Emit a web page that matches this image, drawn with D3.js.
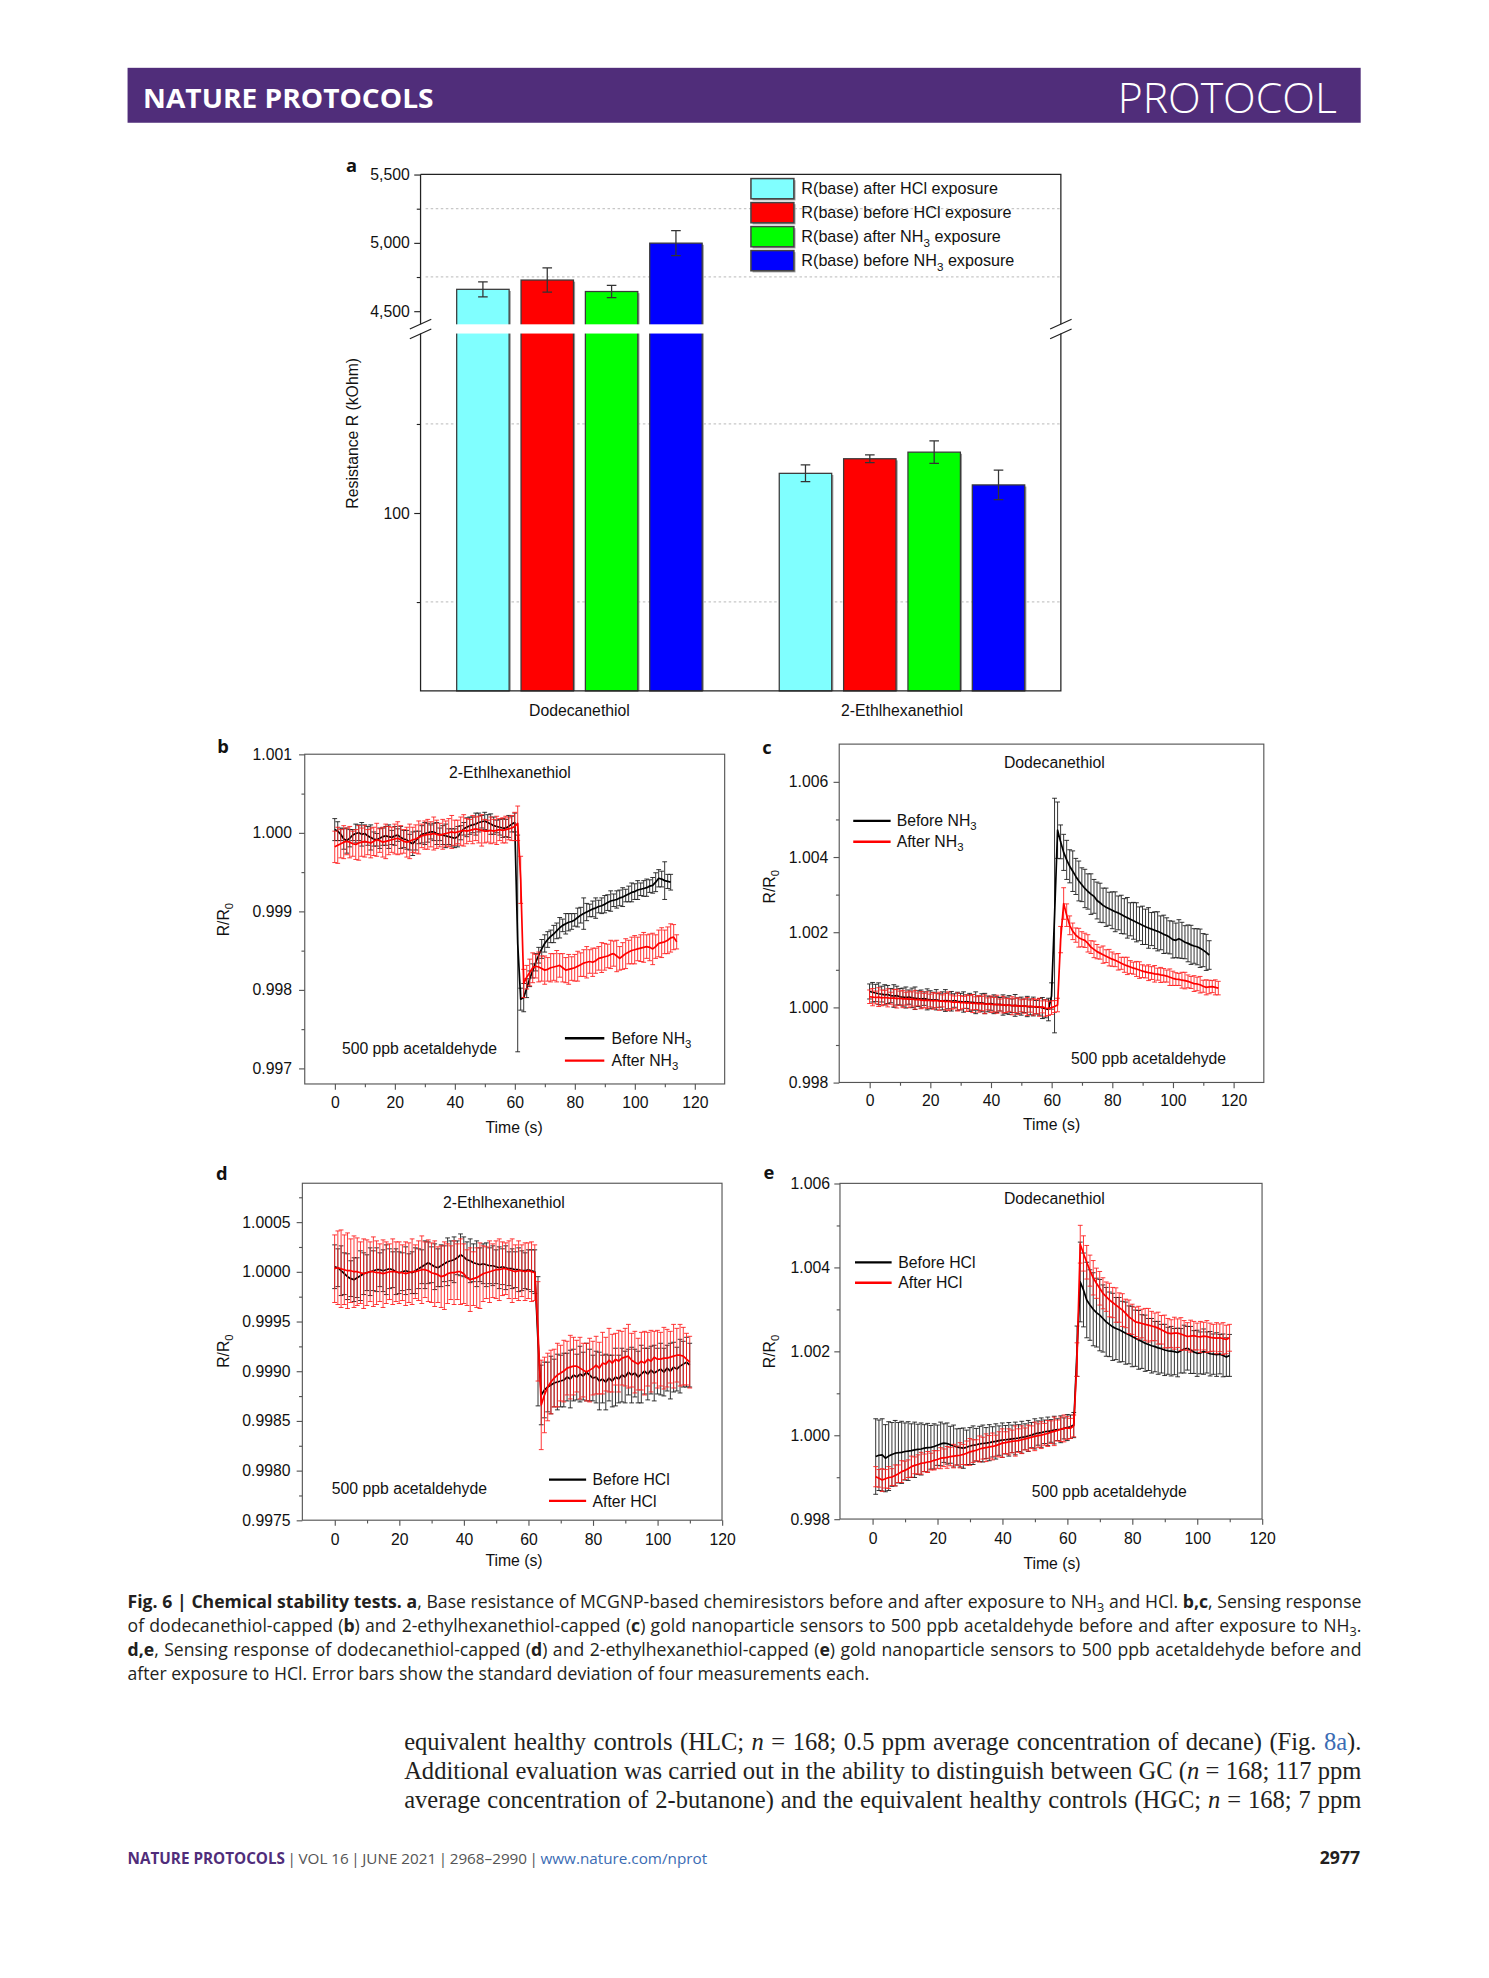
<!DOCTYPE html>
<html lang="en">
<head>
<meta charset="UTF-8">
<title>Fig. 6 | Chemical stability tests</title>
<style>
  body { margin: 0; background: #fff; }
  svg { display: block; }
</style>
</head>
<body>
<script src="https://cdn.jsdelivr.net/npm/d3@7/dist/d3.min.js"></script>
<script>
"use strict";

// ---------- panel a : base resistance ----------
var groups = ["Dodecanethiol", "2-Ethlhexanethiol"];
var seriesA = [
  [["R(base) after HCl exposure"]],
  [["R(base) before HCl exposure"]],
  [["R(base) after NH"], ["3", "sub"], [" exposure"]],
  [["R(base) before NH"], ["3", "sub"], [" exposure"]]
];
var colorsA = ["#80ffff", "#ff0000", "#00ff00", "#0000ff"];
var dodecValues = [4659, 4727, 4643, 4997];   // kOhm
var dodecErrors = [55, 89, 45, 91];
var ethlValues = [122.2, 130.4, 134.1, 115.7];
var ethlErrors = [4.7, 2.2, 6.3, 8.3];
var upperTicks = [4500, 5000, 5500];
var upperMinor = [4750, 5250];
var lowerTicks = [100];
var lowerMinor = [50, 150];

// ---------- panels b-e : R/R0 vs time ----------
// readings stored as (R/R0 - 1) x 1e5, one sample per second starting at t0
var UNIT = 1e-5;
var xTicks = [0, 20, 40, 60, 80, 100, 120];
var xMinor = [-10, 10, 30, 50, 70, 90, 110, 130];

// b: 2-Ethlhexanethiol, NH3
var bBefore = [4,2,-2,-8,-10,-7,-3,-1,0,-2,-1,
  -4,-6,-8,-9,-7,-5,-4,-5,-6,-4,
  -3,-6,-8,-9,-12,-14,-10,-6,-2,-1,
  0,1,1,-1,-2,-3,-4,-5,-6,-7,
  -5,0,5,7,9,10,11,13,14,15,
  13,11,9,8,7,6,6,8,11,13,
  -141,
  -212,-210,-198,-186,-176,-165,-156,-148,-141,
  -136,-132,-129,-125,-121,-118,-116,-114,-113,-111,
  -108,-105,-103,-101,-99,-97,-96,-94,-93,-91,
  -89,-87,-86,-85,-83,-82,-80,-78,-76,-75,
  -73,-72,-71,-70,-68,-67,-63,-58,-59,-61,-62,-63];
var bBeforeErr = [14,12,8,13,16,11,7,12,10,15,11,
  12,16,9,8,13,11,12,15,9,12,
  8,14,11,12,10,15,12,8,11,14,
  12,9,11,14,8,12,15,10,11,12,
  13,9,8,12,11,10,14,12,8,11,
  10,13,11,8,10,12,11,14,10,12,
  138,
  14,18,12,10,9,11,10,12,11,
  10,8,11,10,13,8,13,11,10,8,
  12,10,20,11,8,10,13,8,10,11,
  10,13,8,11,10,12,8,10,12,10,
  12,8,10,11,8,10,12,11,10,24,9,10];
var bAfter = [-18,-16,-14,-12,-11,-12,-14,-15,-13,-12,-11,
  -12,-13,-11,-9,-10,-12,-11,-10,-9,-8,
  -7,-9,-11,-12,-11,-9,-8,-6,-4,-3,
  -2,-2,-1,-2,-3,-2,-1,0,1,0,
  1,2,3,2,3,4,5,4,3,2,
  2,3,2,3,4,3,4,5,6,8,
  12,-60,
  -192,-184,-178,-172,-170,-171,-173,-175,
  -174,-172,-171,-170,-169,-172,-175,-174,-173,-172,
  -170,-168,-166,-165,-164,-165,-163,-160,-159,-158,
  -157,-155,-154,-157,-160,-157,-154,-152,-150,-149,
  -148,-147,-146,-145,-146,-148,-145,-141,-140,-139,-137,-134,-133,-139];
var bAfterErr = [20,23,18,21,17,20,16,19,22,18,20,
  16,19,18,21,15,19,22,18,16,19,
  21,18,15,19,22,16,18,21,15,18,
  19,16,21,18,15,19,16,18,21,16,
  15,18,20,16,14,18,15,17,20,15,
  14,17,15,18,14,16,17,14,16,18,
  22,30,
  18,15,17,19,15,19,16,18,
  15,18,17,20,15,18,16,19,15,17,
  19,15,17,20,15,18,16,15,19,17,
  15,18,16,20,15,17,19,15,17,18,
  15,17,19,15,17,20,15,17,19,15,17,18,16,9];

// c: Dodecanethiol, NH3
var cBefore = [42,40,38,36,35,33,34,31,30,31,28,
  27,26,27,25,24,23,22,23,21,20,
  19,20,18,17,18,17,16,18,16,15,
  14,15,13,13,12,11,12,10,9,10,
  8,7,8,6,5,6,4,5,4,3,
  4,2,1,2,0,1,-2,-4,-6,30,
  244,471,440,412,392,375,362,348,336,326,
  316,308,301,295,284,278,271,266,262,258,
  254,251,247,242,238,234,230,226,222,218,
  214,211,208,205,202,198,194,191,186,180,
  178,182,178,173,170,166,163,161,157,152,146,139];
var cBeforeErr = [20,26,23,29,21,27,24,19,30,25,22,
  24,28,19,26,30,21,24,18,28,24,
  21,27,18,24,29,21,26,18,24,22,
  27,18,24,21,29,19,24,27,21,18,
  25,21,18,27,22,25,18,29,21,24,
  18,27,21,25,18,22,28,24,30,35,
  312,75,45,48,52,44,54,48,53,45,
  51,47,54,45,49,52,46,51,44,49,
  53,45,51,47,54,44,49,52,45,51,
  47,54,44,49,52,45,51,47,44,49,
  46,51,48,44,49,52,46,48,51,44,48,38];
var cAfter = [28,27,26,27,25,26,25,24,25,23,24,
  22,23,21,22,20,21,19,18,19,18,
  17,18,16,17,15,16,14,13,14,12,
  13,11,12,10,11,9,10,8,9,8,
  7,8,6,7,5,6,4,5,3,4,
  3,2,3,1,2,0,1,-2,-3,-1,
  2,6,180,276,245,218,202,192,185,181,
  178,170,160,154,148,144,140,136,132,128,
  125,121,117,113,110,107,104,102,99,96,
  94,92,91,89,88,86,85,83,80,77,
  75,74,72,71,69,66,63,62,60,56,53,54,55,53,51];
var cAfterErr = [18,23,17,25,21,19,24,16,22,25,19,
  23,17,22,19,25,17,23,19,22,17,
  22,19,24,16,22,25,19,17,24,19,
  16,22,19,24,17,22,19,25,16,22,
  19,24,16,22,19,17,24,19,22,16,
  19,24,16,22,19,24,16,22,19,18,
  16,18,35,42,30,25,22,19,25,20,
  19,23,17,22,19,16,23,17,22,19,
  17,22,16,20,23,17,16,20,22,17,
  16,21,17,22,16,20,18,16,22,19,
  17,16,21,22,17,16,21,18,22,16,20,18,16,20,18];

// d: 2-Ethlhexanethiol, HCl
var dBefore = [5,4,1,-2,-5,-7,-8,-6,-4,-2,-1,
  0,1,2,2,1,2,3,2,0,-1,
  0,1,0,-1,1,3,5,7,9,7,
  5,4,6,8,10,11,12,14,17,15,
  12,11,9,8,7,8,7,6,6,5,
  4,5,4,3,3,2,2,1,1,2,
  1,0,-70,-124,-119,-116,-114,-112,-111,-110,
  -109,-106,-108,-104,-106,-103,-105,-101,-104,-107,
  -106,-110,-108,-111,-107,-110,-106,-108,-104,-106,
  -101,-104,-102,-106,-103,-100,-103,-99,-102,-100,
  -98,-101,-97,-100,-96,-98,-95,-93,-91,-94];
var dBeforeErr = [22,19,25,21,23,18,22,20,25,21,18,
  24,20,22,17,21,25,20,18,23,21,
  19,24,18,21,23,20,17,24,21,18,
  23,19,21,18,24,20,23,17,21,20,
  18,22,19,23,17,20,22,18,20,17,
  21,18,22,17,20,18,22,20,18,20,
  21,22,65,30,28,25,29,24,28,26,
  27,24,29,26,23,28,24,29,26,23,
  26,29,24,28,23,26,29,24,27,26,
  23,28,24,26,29,23,26,24,28,23,
  26,24,23,28,25,22,27,23,25,22];
var dAfter = [3,4,3,2,1,1,0,0,-1,-2,-1,
  0,0,-1,-1,-2,-1,0,0,0,-1,
  -1,-2,-1,0,0,1,2,2,1,-1,
  -2,-3,-5,-4,-2,-1,-1,0,0,-2,
  -6,-8,-7,-6,-4,-2,-1,0,1,2,
  2,3,3,2,1,0,1,1,0,1,
  0,-1,-60,-134,-124,-116,-111,-107,-104,-102,
  -100,-97,-96,-95,-95,-97,-99,-101,-99,-97,
  -94,-97,-92,-93,-89,-92,-88,-90,-87,-86,
  -85,-89,-91,-93,-90,-92,-88,-90,-86,-88,
  -88,-87,-87,-86,-85,-84,-84,-85,-88,-91];
var dAfterErr = [34,37,39,35,38,32,36,34,31,35,33,
  30,35,32,29,34,31,28,33,30,31,
  28,32,30,33,27,30,34,28,31,30,
  33,28,31,34,30,27,32,28,33,30,
  28,32,27,30,33,28,26,31,27,29,
  31,27,26,29,32,27,30,26,29,28,
  30,28,50,45,38,34,32,29,32,28,
  31,27,32,29,26,31,27,29,32,27,
  29,26,31,27,32,29,26,31,27,29,
  32,27,31,26,29,32,27,31,26,29,
  27,31,29,26,32,27,31,29,26,26];

// e: Dodecanethiol, HCl (first sample at t = 1 s)
var eBefore = [-51,-48,-47,-55,-50,-46,-43,-42,-41,-39,
  -38,-37,-35,-34,-33,-31,-30,-29,-27,-24,
  -21,-19,-20,-23,-26,-28,-30,-31,-29,-26,
  -24,-23,-21,-20,-19,-18,-16,-15,-13,-12,
  -11,-10,-9,-8,-7,-5,-4,-2,0,3,
  5,6,8,9,10,12,13,14,16,18,
  20,24,200,365,346,322,310,300,292,286,
  278,270,264,258,254,251,247,243,239,235,
  231,227,223,219,216,213,211,208,206,203,
  201,200,199,197,201,205,207,203,198,195,
  196,199,197,194,193,192,193,190,186,190];
var eBeforeErr = [90,84,86,80,82,76,78,72,74,68,
  70,64,66,60,62,56,58,52,54,48,
  52,46,49,44,50,43,46,48,41,44,
  46,39,42,44,37,43,36,42,35,41,
  34,40,33,39,32,38,31,37,30,36,
  29,35,28,34,27,33,26,32,25,31,
  28,30,60,95,88,90,84,87,82,85,
  80,82,77,80,74,77,72,74,69,72,
  67,70,64,67,62,65,60,63,58,61,
  56,59,55,58,53,57,52,56,51,55,
  50,54,49,53,48,52,47,51,46,50];
var eAfter = [-99,-103,-107,-104,-101,-100,-96,-92,-87,-84,
  -80,-75,-72,-70,-67,-66,-64,-63,-60,-58,
  -55,-54,-53,-51,-50,-49,-48,-46,-43,-40,
  -38,-36,-33,-31,-30,-28,-27,-25,-22,-19,
  -18,-16,-15,-14,-13,-11,-9,-7,-5,-3,
  -1,0,2,4,7,9,11,14,16,17,
  16,22,180,455,433,412,392,375,362,350,
  338,330,322,316,310,304,298,290,282,276,
  270,268,266,264,262,260,258,255,251,247,
  243,242,243,243,241,238,235,236,237,235,
  234,236,235,233,232,231,232,230,228,232];
var eAfterErr = [24,21,27,22,26,20,25,21,26,22,
  21,25,20,23,26,21,25,20,23,21,
  25,21,26,22,28,23,30,24,29,32,
  27,25,31,26,33,27,32,25,30,34,
  26,31,27,36,28,33,26,31,27,34,
  28,32,26,31,27,34,25,29,32,27,
  24,26,40,45,42,40,37,41,36,40,
  37,35,40,36,41,35,39,34,40,36,
  35,39,34,38,40,35,33,38,34,39,
  35,33,38,34,39,35,33,38,34,32,
  37,33,38,34,32,37,33,38,34,32];

var nh3Names = [[["Before NH"], ["3", "sub"]], [["After NH"], ["3", "sub"]]];
var hclNames = [[["Before HCl"]], [["After HCl"]]];

// ---------- page ----------
var W = 1179, H = 1566;
var SANS = "'Liberation Sans', Arial, Helvetica, sans-serif";
var HUM = "'Open Sans', 'Noto Sans', sans-serif";
var AXIS = "#555";
var svg = d3.select("body").append("svg")
  .attr("width", 1489).attr("height", 1978)
  .attr("viewBox", "0 0 " + W + " " + H);

// text with bold / sub / italic / coloured runs
function rich(parent, x, y, segs, o) {
  var t = parent.append("text").attr("x", x).attr("y", y)
    .attr("font-family", o.family || SANS).attr("font-size", o.size)
    .attr("fill", o.fill || "#111");
  if (o.anchor) t.attr("text-anchor", o.anchor);
  var shift = 0;
  segs.forEach(function (s) {
    var ts = t.append("tspan").text(s[0]);
    var st = s[1] || "";
    var want = st.indexOf("sub") >= 0 ? o.size * 0.25 : 0;
    if (want !== shift) { ts.attr("dy", want - shift); shift = want; }
    if (st.indexOf("sub") >= 0) ts.attr("font-size", o.size * 0.72);
    if (st.indexOf("b") === 0 || st.indexOf(" b") >= 0) ts.attr("font-weight", 700);
    if (st.indexOf("i") === 0) ts.attr("font-style", "italic");
    var m = st.match(/#[0-9a-f]{6}/i);
    if (m) ts.attr("fill", m[0]);
  });
  return t;
}

// ---------- header ----------
svg.append("rect").attr("x", 101).attr("y", 53.6).attr("width", 976.4).attr("height", 43.5)
  .attr("fill", "#502d7a");
svg.append("text").attr("x", 113.3).attr("y", 85.3).text("NATURE PROTOCOLS")
  .attr("font-family", HUM).attr("font-weight", 700)
  .attr("font-size", 21).attr("fill", "#fff")
  .attr("textLength", 230).attr("lengthAdjust", "spacingAndGlyphs");
svg.append("text").attr("x", 885).attr("y", 89.3).text("PROTOCOL")
  .attr("font-family", HUM).attr("font-weight", 300)
  .attr("font-size", 33.5).attr("fill", "#fff")
  .attr("textLength", 173.5).attr("lengthAdjust", "spacingAndGlyphs");

function styleAxis(sel, color) {
  sel.select(".domain").remove();
  sel.attr("font-family", SANS).attr("font-size", 12.5).attr("color", color);
  sel.selectAll("line").attr("stroke-width", 0.9);
  sel.selectAll("text").attr("fill", "#111");
}
function minorAxis(sel) {
  sel.select(".domain").remove();
  sel.selectAll("text").remove();
}

// ---------- panel a ----------
(function () {
  var box = { x0: 333, x1: 840, y0: 138, y1: 547, gapTop: 256.7, gapBot: 264 };
  var ga = svg.append("g");
  var yUp = d3.scaleLinear().domain([4500, 5500]).range([246.2, 138]);
  var yLow = d3.scaleLinear().domain([0, 100]).range([547, 406]);
  var xGroup = d3.scaleBand().domain(groups).range([box.x0, box.x1])
    .paddingInner(0.239).paddingOuter(0.112);
  var xSeries = d3.scaleBand().domain(d3.range(seriesA.length))
    .range([0, xGroup.bandwidth()]).paddingInner(0.185);

  // dotted grid at the minor ticks
  var grid = upperMinor.map(function (v) { return yUp(v); })
    .concat(lowerMinor.map(function (v) { return yLow(v); }));
  ga.selectAll("line.grid").data(grid).join("line").attr("class", "grid")
    .attr("x1", box.x0 + 4).attr("x2", box.x1).attr("y1", function (d) { return d; })
    .attr("y2", function (d) { return d; })
    .attr("stroke", "#c8c8c8").attr("stroke-width", 1).attr("stroke-dasharray", "2,2");

  var bars = [];
  groups.forEach(function (g, gi) {
    var vals = gi === 0 ? dodecValues : ethlValues;
    var errs = gi === 0 ? dodecErrors : ethlErrors;
    var sc = gi === 0 ? yUp : yLow;
    vals.forEach(function (v, i) {
      bars.push({ g: g, i: i, top: sc(v), hi: sc(v + errs[i]), lo: sc(v - errs[i]) });
    });
  });
  var bw = xSeries.bandwidth();
  function bx(d) { return xGroup(d.g) + xSeries(d.i); }

  ga.selectAll("rect.shadow").data(bars).join("rect").attr("class", "shadow")
    .attr("x", function (d) { return bx(d) + 1.3; }).attr("y", function (d) { return d.top + 1.3; })
    .attr("width", bw).attr("height", function (d) { return box.y1 - d.top - 1.3; })
    .attr("fill", "#9a9a9a");
  ga.selectAll("rect.bar").data(bars).join("rect").attr("class", "bar")
    .attr("x", bx).attr("y", function (d) { return d.top; })
    .attr("width", bw).attr("height", function (d) { return box.y1 - d.top; })
    .attr("fill", function (d) { return colorsA[d.i]; })
    .attr("stroke", "#3a3a3a").attr("stroke-width", 1);

  // axis break band
  ga.append("rect").attr("x", box.x0 - 0.5).attr("y", box.gapTop).attr("width", box.x1 - box.x0 + 3)
    .attr("height", box.gapBot - box.gapTop).attr("fill", "#fff");

  // error bars
  ga.selectAll("path.err").data(bars).join("path").attr("class", "err")
    .attr("d", function (d) {
      var cx = bx(d) + bw / 2, c = 3.8;
      return "M" + cx + "," + d.hi + "V" + d.lo + "M" + (cx - c) + "," + d.hi + "H" + (cx + c) +
        "M" + (cx - c) + "," + d.lo + "H" + (cx + c);
    })
    .attr("stroke", "#333").attr("stroke-width", 1).attr("fill", "none");

  // frame with breaks
  var fr = ga.append("g").attr("stroke", "#222").attr("stroke-width", 1).attr("fill", "none");
  fr.append("path").attr("d",
    "M" + box.x0 + "," + box.y0 + "V" + box.gapTop + "M" + box.x0 + "," + box.gapBot + "V" + box.y1 +
    "H" + box.x1 + "V" + box.gapBot + "M" + box.x1 + "," + box.gapTop + "V" + box.y0 + "H" + box.x0);
  [box.x0, box.x1].forEach(function (xx) {
    fr.append("path").attr("d",
      "M" + (xx - 8.5) + ",260.4L" + (xx + 8.5) + ",252.7M" + (xx - 8.5) + ",268.1L" + (xx + 8.5) + ",260.4");
  });

  ga.append("g").attr("transform", "translate(" + box.x0 + ",0)")
    .call(d3.axisLeft(yUp).tickValues(upperTicks).tickFormat(d3.format(",")).tickSize(5).tickPadding(3.6))
    .call(styleAxis, "#222");
  ga.append("g").attr("transform", "translate(" + box.x0 + ",0)")
    .call(d3.axisLeft(yUp).tickValues(upperMinor).tickSize(3)).call(styleAxis, "#222").call(minorAxis);
  ga.append("g").attr("transform", "translate(" + box.x0 + ",0)")
    .call(d3.axisLeft(yLow).tickValues(lowerTicks).tickFormat(d3.format("d")).tickSize(5).tickPadding(3.6))
    .call(styleAxis, "#222");
  ga.append("g").attr("transform", "translate(" + box.x0 + ",0)")
    .call(d3.axisLeft(yLow).tickValues(lowerMinor).tickSize(3)).call(styleAxis, "#222").call(minorAxis);

  groups.forEach(function (g) {
    ga.append("text").attr("x", xGroup(g) + xGroup.bandwidth() / 2).attr("y", 566.5)
      .attr("text-anchor", "middle").attr("font-family", SANS).attr("font-size", 12.5)
      .attr("fill", "#111").text(g);
  });
  ga.append("text").attr("transform", "translate(283.2,343) rotate(-90)")
    .attr("text-anchor", "middle").attr("font-family", SANS).attr("font-size", 12.5)
    .attr("fill", "#111").text("Resistance R (kOhm)");

  // legend
  var lg = ga.append("g");
  seriesA.forEach(function (name, i) {
    var y = 141.3 + i * 19;
    lg.append("rect").attr("x", 595.9).attr("y", y + 1.3).attr("width", 34).attr("height", 16)
      .attr("fill", "#a0a0a0");
    lg.append("rect").attr("x", 594.6).attr("y", y).attr("width", 34).attr("height", 16)
      .attr("fill", colorsA[i]).attr("stroke", "#444").attr("stroke-width", 1.2);
    rich(lg, 634.5, y + 12.6, name, { size: 12.8 });
  });

  svg.append("text").attr("x", 274).attr("y", 136).text("a")
    .attr("font-family", HUM).attr("font-weight", 700)
    .attr("font-size", 14.5).attr("fill", "#111");
})();

// ---------- panels b-e ----------
var panels = [
  { label: "b", labelAt: [172, 596],
    box: { x0: 241.3, x1: 573.8, y0: 597.1, y1: 858.2 },
    xDomain: [-10, 130], yDomain: [0.9968, 1.001],
    yMajor: [0.997, 0.998, 0.999, 1.000, 1.001], yMinor: [0.9975, 0.9985, 0.9995, 1.0005],
    yFmt: ".3f", yPad: 5.6, xPad: 6,
    title: "2-Ethlhexanethiol", titleAt: [403.8, 616],
    noteAt: [270.7, 834.5],
    legend: { x0: 447.3, x1: 478.5, y: [822, 839.7], tx: 484.2 }, names: nh3Names,
    timeAt: [407.1, 896.8], ratioAt: [181.5, 728],
    series: [
      { t0: 0, vals: bBefore, errs: bBeforeErr, color: "#000", ecolor: "#1a1a1a" },
      { t0: 0, vals: bAfter, errs: bAfterErr, color: "#ff0000", ecolor: "#ff1f1f" }] },
  { label: "c", labelAt: [603.5, 597],
    box: { x0: 664.5, x1: 1000.7, y0: 589.1, y1: 857 },
    xDomain: [-10, 130], yDomain: [0.998, 1.007],
    yMajor: [0.998, 1.000, 1.002, 1.004, 1.006], yMinor: [0.999, 1.001, 1.003, 1.005],
    yFmt: ".3f", yPad: 4.2, xPad: 5,
    title: "Dodecanethiol", titleAt: [834.8, 608.4],
    noteAt: [848, 842.5],
    legend: { x0: 675.6, x1: 705.2, y: [649.8, 666.4], tx: 710 }, names: nh3Names,
    timeAt: [832.7, 894.5], ratioAt: [613.6, 702],
    series: [
      { t0: 0, vals: cBefore, errs: cBeforeErr, color: "#000", ecolor: "#1a1a1a" },
      { t0: 0, vals: cAfter, errs: cAfterErr, color: "#ff0000", ecolor: "#ff1f1f" }] },
  { label: "d", labelAt: [171, 934.5],
    box: { x0: 239.4, x1: 571.7, y0: 936.8, y1: 1203.6 },
    xDomain: [-10, 120], yDomain: [0.9975, 1.00089],
    yMajor: [0.9975, 0.998, 0.9985, 0.999, 0.9995, 1.0, 1.0005],
    yMinor: [0.99775, 0.99825, 0.99875, 0.99925, 0.99975, 1.00025, 1.00075],
    yFmt: ".4f", yPad: 4.9, xPad: 6,
    title: "2-Ethlhexanethiol", titleAt: [399, 956.6],
    noteAt: [262.7, 1182.5],
    legend: { x0: 434.7, x1: 464.1, y: [1171.4, 1188.3], tx: 469.2 }, names: hclNames,
    timeAt: [407, 1239.5], ratioAt: [181.5, 1069.7],
    series: [
      { t0: 0, vals: dBefore, errs: dBeforeErr, color: "#000", ecolor: "#1a1a1a" },
      { t0: 0, vals: dAfter, errs: dAfterErr, color: "#ff0000", ecolor: "#ff1f1f" }] },
  { label: "e", labelAt: [604.5, 933.5],
    box: { x0: 665.1, x1: 999.3, y0: 936.9, y1: 1202.7 },
    xDomain: [-10, 120], yDomain: [0.998, 1.006],
    yMajor: [0.998, 1.000, 1.002, 1.004, 1.006], yMinor: [0.999, 1.001, 1.003, 1.005],
    yFmt: ".3f", yPad: 3.4, xPad: 6,
    title: "Dodecanethiol", titleAt: [834.8, 953.3],
    noteAt: [816.9, 1185.6],
    legend: { x0: 677, x1: 706, y: [999.5, 1015.6], tx: 711.3 }, names: hclNames,
    timeAt: [833, 1242.5], ratioAt: [613.5, 1070],
    series: [
      { t0: 1, vals: eBefore, errs: eBeforeErr, color: "#000", ecolor: "#1a1a1a" },
      { t0: 1, vals: eAfter, errs: eAfterErr, color: "#ff0000", ecolor: "#ff1f1f" }] }
];

function drawPanel(p) {
  var g = svg.append("g");
  var b = p.box;
  var x = d3.scaleLinear().domain(p.xDomain).range([b.x0, b.x1]);
  var y = d3.scaleLinear().domain(p.yDomain).range([b.y1, b.y0]);

  var inX = xMinor.filter(function (v) { return v > p.xDomain[0] && v < p.xDomain[1]; });
  g.append("g").attr("transform", "translate(" + b.x0 + ",0)")
    .call(d3.axisLeft(y).tickValues(p.yMajor).tickFormat(d3.format(p.yFmt)).tickSize(4.5).tickPadding(p.yPad))
    .call(styleAxis, AXIS);
  g.append("g").attr("transform", "translate(" + b.x0 + ",0)")
    .call(d3.axisLeft(y).tickValues(p.yMinor).tickSize(2.6)).call(styleAxis, AXIS).call(minorAxis);
  g.append("g").attr("transform", "translate(0," + b.y1 + ")")
    .call(d3.axisBottom(x).tickValues(xTicks).tickFormat(d3.format("d")).tickSize(4.5).tickPadding(p.xPad))
    .call(styleAxis, AXIS);
  g.append("g").attr("transform", "translate(0," + b.y1 + ")")
    .call(d3.axisBottom(x).tickValues(inX).tickSize(2.6)).call(styleAxis, AXIS).call(minorAxis);
  g.append("rect").attr("x", b.x0).attr("y", b.y0).attr("width", b.x1 - b.x0).attr("height", b.y1 - b.y0)
    .attr("fill", "none").attr("stroke", AXIS).attr("stroke-width", 0.9);

  var line = d3.line().x(function (d) { return x(d.t); }).y(function (d) { return y(d.v); });
  p.series.forEach(function (s) {
    var pts = s.vals.map(function (v, i) {
      return { t: s.t0 + i, v: 1 + v * UNIT, e: s.errs[i] * UNIT };
    });
    g.append("g").attr("stroke", s.ecolor).attr("stroke-width", 0.7).attr("fill", "none")
      .selectAll("path").data(pts).join("path")
      .attr("d", function (d) {
        var cx = x(d.t), yt = y(d.v + d.e), yb = y(d.v - d.e), c = 1.9;
        return "M" + cx + "," + yt + "V" + yb + "M" + (cx - c) + "," + yt + "H" + (cx + c) +
          "M" + (cx - c) + "," + yb + "H" + (cx + c);
      });
    g.append("path").datum(pts).attr("d", line)
      .attr("stroke", s.color).attr("stroke-width", 1.35).attr("fill", "none")
      .attr("stroke-linejoin", "round");
  });

  // texts
  g.append("text").attr("x", p.titleAt[0]).attr("y", p.titleAt[1]).attr("text-anchor", "middle")
    .attr("font-family", SANS).attr("font-size", 12.5).attr("fill", "#111").text(p.title);
  g.append("text").attr("x", p.noteAt[0]).attr("y", p.noteAt[1])
    .attr("font-family", SANS).attr("font-size", 12.5).attr("fill", "#111").text("500 ppb acetaldehyde");
  p.names.forEach(function (nm, i) {
    g.append("line").attr("x1", p.legend.x0).attr("x2", p.legend.x1)
      .attr("y1", p.legend.y[i]).attr("y2", p.legend.y[i])
      .attr("stroke", p.series[i].color).attr("stroke-width", 1.8);
    rich(g, p.legend.tx, p.legend.y[i] + 4.5, nm, { size: 12.5 });
  });
  g.append("text").attr("x", p.timeAt[0]).attr("y", p.timeAt[1]).attr("text-anchor", "middle")
    .attr("font-family", SANS).attr("font-size", 12.5).attr("fill", "#111").text("Time (s)");
  var rl = g.append("g").attr("transform", "translate(" + p.ratioAt[0] + "," + p.ratioAt[1] + ") rotate(-90)");
  rich(rl, 0, 0, [["R/R"], ["0", "sub"]], { size: 12.5, anchor: "middle" });

  svg.append("text").attr("x", p.labelAt[0]).attr("y", p.labelAt[1]).text(p.label)
    .attr("font-family", HUM).attr("font-weight", 700)
    .attr("font-size", 14.5).attr("fill", "#111");
}
panels.forEach(drawPanel);

// ---------- caption, body text, footer ----------
var captionLines = [
  [["Fig. 6 | Chemical stability tests. ", "b"], ["a", "b"],
   [", Base resistance of MCGNP-based chemiresistors before and after exposure to NH"], ["3", "sub"],
   [" and HCl. "], ["b,c", "b"], [", Sensing response"]],
  [["of dodecanethiol-capped ("], ["b", "b"], [") and 2-ethylhexanethiol-capped ("], ["c", "b"],
   [") gold nanoparticle sensors to 500 ppb acetaldehyde before and after exposure to NH"], ["3", "sub"], ["."]],
  [["d,e", "b"], [", Sensing response of dodecanethiol-capped ("], ["d", "b"],
   [") and 2-ethylhexanethiol-capped ("], ["e", "b"],
   [") gold nanoparticle sensors to 500 ppb acetaldehyde before and"]],
  [["after exposure to HCl. Error bars show the standard deviation of four measurements each."]]
];
var bodyLines = [
  [["equivalent healthy controls (HLC; "], ["n", "i"], [" = 168; 0.5 ppm average concentration of decane) (Fig. "],
   ["8a", "#3b6cb4"], [")."]],
  [["Additional evaluation was carried out in the ability to distinguish between GC ("], ["n", "i"],
   [" = 168; 117 ppm"]],
  [["average concentration of 2-butanone) and the equivalent healthy controls (HGC; "], ["n", "i"],
   [" = 168; 7 ppm"]]
];

// justified block: size chosen so no line is too long, gaps widened with word-spacing
function block(lines, x, y0, lh, width, o, nJust) {
  var probe = lines.slice(0, nJust).map(function (l) { return rich(svg, x, -100, l, o); });
  var ratio = d3.min(probe, function (t) { return width / t.node().getComputedTextLength(); });
  probe.forEach(function (t) { t.remove(); });
  var oo = Object.assign({}, o, { size: o.size * Math.min(1.15, ratio) * 0.998 });
  lines.forEach(function (l, i) {
    var t = rich(svg, x, y0 + i * lh, l, oo);
    if (i >= nJust) return;
    var len = t.node().getComputedTextLength();
    var spaces = l.map(function (s) { return s[0]; }).join("").split(" ").length - 1;
    if (spaces > 0 && width > len) {
      t.attr("word-spacing", ((width - len) / spaces).toFixed(3));
      var len2 = t.node().getComputedTextLength();
      if (Math.abs(len2 - len) < 0.5) t.attr("word-spacing", null)
        .attr("textLength", width).attr("lengthAdjust", "spacing");
    }
  });
}
block(captionLines, 101, 1273, 19, 977, { size: 14, family: HUM, fill: "#231f20" }, 3);
block(bodyLines, 320, 1385.5, 23, 758,
  { size: 18, family: "'Liberation Serif', 'DejaVu Serif', serif", fill: "#231f20" }, 3);

// footer, sized so its natural width spans the same run as the reference
var footSegs = [["NATURE PROTOCOLS", "b #502d7a"],
  ["\u2009|\u2009VOL 16\u2009|\u2009JUNE 2021\u2009|\u20092968\u20132990\u2009|\u2009", "#555555"],
  ["www.nature.com/nprot", "#3b6cb4"]];
var fprobe = rich(svg, 101, -100, footSegs, { size: 13, family: HUM });
var fsize = 13 * 459 / fprobe.node().getComputedTextLength();
fprobe.remove();
rich(svg, 101, 1475.5, footSegs, { size: fsize, family: HUM });
svg.append("text").attr("x", 1077).attr("y", 1475.5).attr("text-anchor", "end").text("2977")
  .attr("font-family", HUM).attr("font-weight", 700)
  .attr("font-size", 14).attr("fill", "#231f20");
</script>
</body>
</html>
